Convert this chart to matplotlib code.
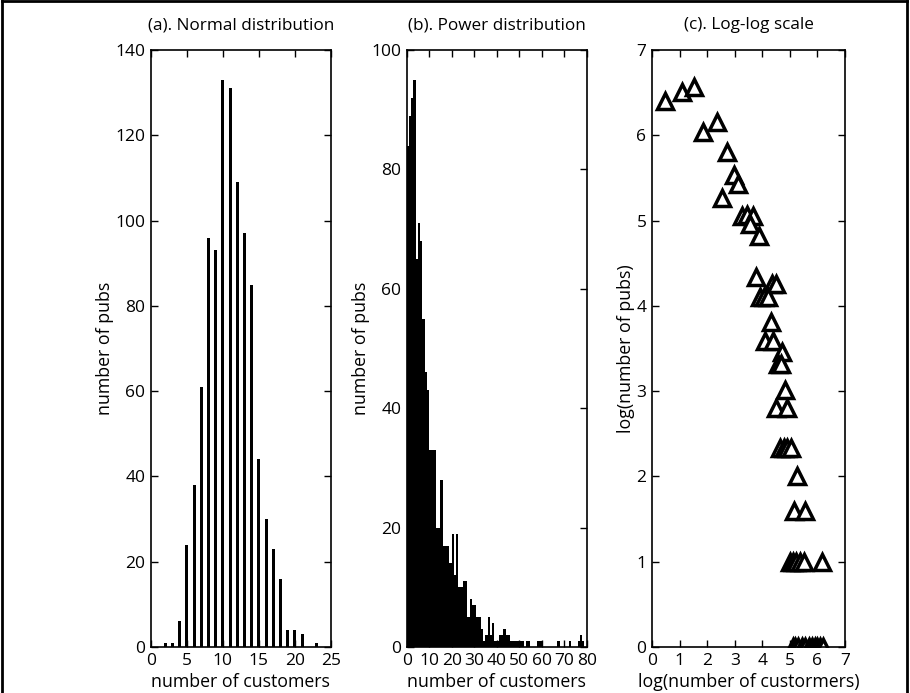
import matplotlib
matplotlib.use("Agg")
import matplotlib.pyplot as plt
from matplotlib.lines import Line2D
import numpy as np

plt.rcParams['font.family'] = ['Open Sans', 'DejaVu Sans']

# ---------------- data ----------------
# (a) Normal distribution: customers per pub -> number of pubs
normal_customers = [2, 3, 4, 5, 6, 7, 8, 9, 10, 11, 12, 13, 14, 15, 16, 17, 18, 19, 20, 21, 23]
normal_pubs = [1, 1, 6, 24, 38, 61, 96, 93, 133, 131, 109, 97, 85, 44, 30, 23, 16, 4, 4, 3, 1]

# (b) Power distribution: bins of one customer starting at 0
power_customers = list(range(0, 80))
power_pubs = [84, 89, 92, 95, 65, 71, 68, 55, 46, 43,
              33, 33, 33, 20, 20, 28, 17, 17, 17, 14,
              19, 12, 19, 10, 10, 11, 11, 5, 8, 7,
              7, 5, 5, 3, 1, 2, 5, 2, 4, 1,
              1, 2, 2, 3, 2, 2, 1, 1, 1, 1,
              1, 1, 0, 1, 1, 0, 0, 0, 1, 1,
              0, 0, 0, 0, 0, 0, 0, 1, 0, 0,
              0, 0, 1, 0, 0, 0, 1, 2, 1, 0]

# (c) Log-log scale
log_customers = [0.47, 1.08, 1.52, 1.84, 2.34, 2.71, 2.98, 3.13, 2.55,
                 3.25, 3.45, 3.65, 3.55, 3.87, 3.77, 4.34, 4.49,
                 3.91, 4.06, 4.21, 4.30, 4.09, 4.39, 4.70, 4.58, 4.68,
                 4.84, 4.48, 4.90, 4.65, 4.78, 4.90, 5.05, 5.25, 5.14, 5.54,
                 5.00, 5.10, 5.22, 5.35, 5.50, 6.15,
                 5.10, 5.20, 5.30, 5.45, 5.55, 5.70, 5.80, 5.90, 6.00, 6.10, 6.20]
log_pubs = [6.40, 6.51, 6.57, 6.04, 6.16, 5.80, 5.53, 5.43, 5.26,
            5.05, 5.06, 5.05, 4.96, 4.82, 4.34, 4.26, 4.26,
            4.10, 4.10, 4.10, 3.81, 3.59, 3.59, 3.46, 3.32, 3.32,
            3.01, 2.80, 2.80, 2.33, 2.33, 2.33, 2.33, 2.01, 1.60, 1.60,
            1.00, 1.00, 1.00, 1.00, 1.00, 1.00,
            0, 0, 0, 0, 0, 0, 0, 0, 0, 0, 0]

titles = ["(a). Normal distribution", "(b). Power distribution", "(c). Log-log scale"]
xlabels = ["number of customers", "number of customers", "log(number of custormers)"]
ylabels = ["number of pubs", "number of pubs", "log(number of pubs)"]

# ---------------- figure ----------------
fig = plt.figure(figsize=(9.1, 6.93), dpi=100)
W, H = 910, 693
bottom_px, top_px = 647, 50
def rect(l, r):
    return [l / W, 1 - bottom_px / H, (r - l) / W, (bottom_px - top_px) / H]

ax1 = fig.add_axes(rect(150.8, 331))
ax2 = fig.add_axes(rect(406.7, 586.7))
ax3 = fig.add_axes(rect(652, 845))
axes = [ax1, ax2, ax3]

ax1.bar(normal_customers, normal_pubs, width=0.42, color='black', linewidth=0)
ax1.set_xlim(0, 25)
ax1.set_ylim(0, 140)
ax1.set_xticks(np.arange(0, 26, 5))
ax1.set_yticks(np.arange(0, 141, 20))

ax2.bar(power_customers, power_pubs, width=1.0, align='edge', color='black',
        linewidth=0)
ax2.set_xlim(0, 80)
ax2.set_ylim(0, 100)
ax2.set_xticks(np.arange(0, 81, 10))
ax2.set_yticks(np.arange(0, 101, 20))

ax3.plot(log_customers, log_pubs, linestyle='none', marker='^', markersize=12,
         markerfacecolor='white', markeredgecolor='black', markeredgewidth=2.5)
ax3.set_xlim(0, 7)
ax3.set_ylim(0, 7)
ax3.set_xticks(np.arange(0, 8, 1))
ax3.set_yticks(np.arange(0, 8, 1))

for ax, t, xl, yl in zip(axes, titles, xlabels, ylabels):
    ax.set_title(t, fontsize=12.3, pad=15)
    ax.set_xlabel(xl, fontsize=12.8, labelpad=3)
    ax.set_ylabel(yl, fontsize=12.8, labelpad=1)
    ax.tick_params(direction='in', length=5, width=1.0, top=True, right=True,
                   labelsize=12.5, pad=4)
    for s in ax.spines.values():
        s.set_linewidth(1.2)

# outer frame (left, top, right)
fig.add_artist(Line2D([0.002, 0.002], [0, 0.998], color='black', lw=2.0, transform=fig.transFigure))
fig.add_artist(Line2D([0.002, 0.997], [0.998, 0.998], color='black', lw=2.0, transform=fig.transFigure))
fig.add_artist(Line2D([0.997, 0.997], [0, 0.998], color='black', lw=2.0, transform=fig.transFigure))

fig.savefig("out.png", dpi=100)
